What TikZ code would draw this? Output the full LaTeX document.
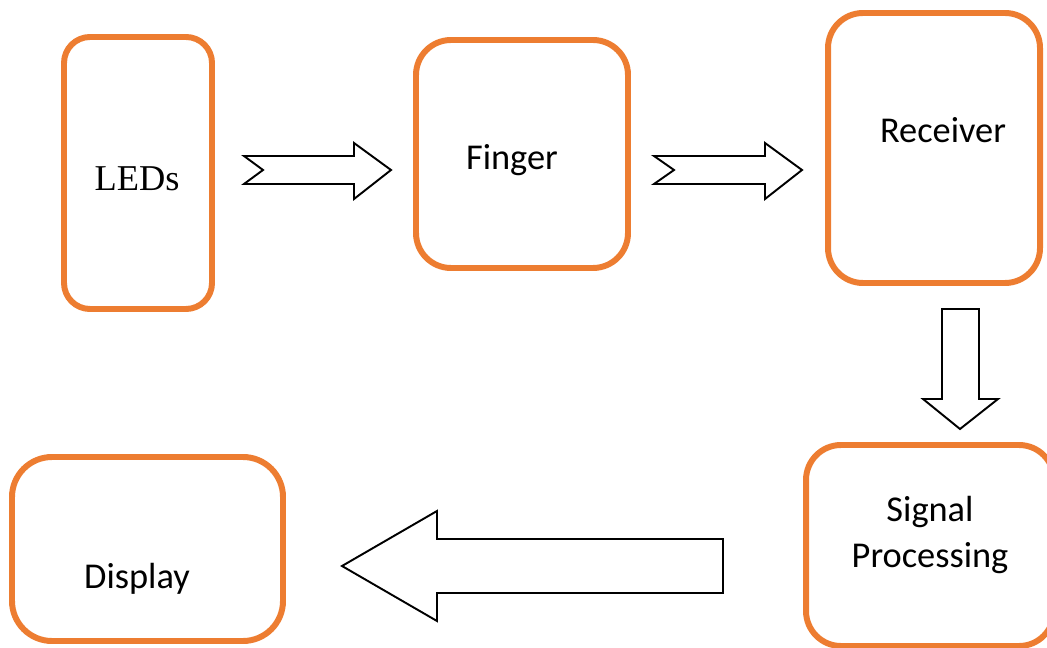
\documentclass[tikz,border=0pt]{standalone}
\usepackage{fontspec}
\setmainfont{Carlito}
\newfontfamily\timesfont{Liberation Serif}
\definecolor{boxorange}{RGB}{237,125,49}
\tikzset{
  block/.style={draw=boxorange, line width=3.4pt, rounded corners=0.7cm},
  blocktext/.style={anchor=base, inner sep=0pt, font=\fontsize{20.7}{26}\selectfont},
  blockarrow/.style={draw=black, fill=white, line width=1.1pt, line join=miter},
}
\begin{document}
\begin{tikzpicture}[x=0.02cm, y=-0.02cm]
  \useasboundingbox (0,0) rectangle (1047,648);
  \clip (0,0) rectangle (1047,648);

  % processing blocks
  \draw[block, rounded corners=0.52cm] (64,37) rectangle (212,309);
  \draw[block] (416,40) rectangle (628,268);
  \draw[block] (828,13) rectangle (1040,283);
  \draw[block] (806,445) rectangle (1054,646);
  \draw[block, rounded corners=0.8cm] (12,457) rectangle (283,641);

  % block labels
  \node[blocktext, font=\timesfont\fontsize{20.7}{26}\selectfont] (leds) at (137,191) {LEDs};
  \node[blocktext] (finger) at (512,170) {Finger};
  \node[blocktext] (receiver) at (943,143) {Receiver};
  \node[blocktext] (signal) at (930,521) {Signal};
  \node[blocktext] (processing) at (930,567) {Processing};
  \node[blocktext] (display) at (137,588) {Display};

  % notched arrow: LEDs -> Finger
  \draw[blockarrow] (244,156) -- (354,156) -- (354,143) -- (391,170)
    -- (354,199) -- (354,184) -- (244,184) -- (263,170) -- cycle;
  % notched arrow: Finger -> Receiver
  \draw[blockarrow] (654,156) -- (765,156) -- (765,143) -- (802,170)
    -- (765,199) -- (765,184) -- (654,184) -- (674,170) -- cycle;
  % down arrow: Receiver -> Signal Processing
  \draw[blockarrow] (942,309) -- (979,309) -- (979,399) -- (998,399)
    -- (960,429) -- (923,399) -- (942,399) -- cycle;
  % left arrow: Signal Processing -> Display
  \draw[blockarrow] (723,539) -- (437,539) -- (437,511) -- (342,566)
    -- (437,621) -- (437,593) -- (723,593) -- cycle;
\end{tikzpicture}
\end{document}
